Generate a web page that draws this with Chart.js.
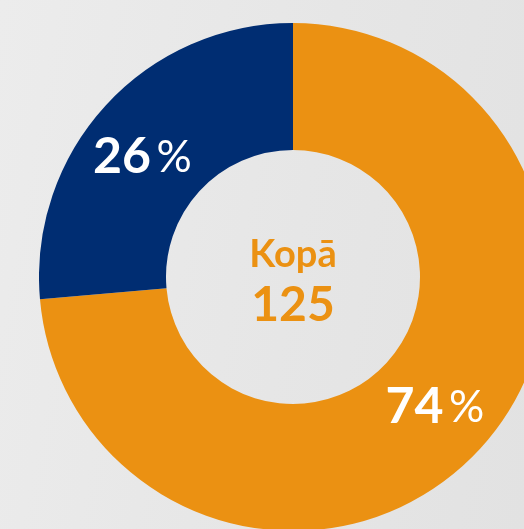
<!DOCTYPE html>
<html>
<head>
<meta charset="utf-8">
<script src="https://cdn.jsdelivr.net/npm/chart.js@4/dist/chart.umd.min.js"></script>
<style>
    html, body { margin: 0; padding: 0; width: 524px; height: 529px; overflow: hidden; }
    body { background: linear-gradient(100deg, #ececec 0%, #e6e6e6 55%, #e2e2e2 100%); position: relative; }
    #wrap { position: absolute; left: 39px; top: 23px; width: 508px; height: 508px; }
</style>
</head>
<body>
<div id="wrap"><canvas id="kopaChart"></canvas></div>
<script>
// dati
const kategorijas = ['A', 'B'];
const vertibas = [92, 33];
const krasas = ['#EB9112', '#002D72'];
const centraTeksts = 'Kopā';

const kopa = vertibas.reduce((a, b) => a + b, 0);

// procenti uz segmentiem + kopsumma centrā
const etiketes = {
    id: 'etiketes',
    afterDatasetsDraw(chart) {
        const ctx = chart.ctx;
        const meta = chart.getDatasetMeta(0);
        ctx.save();
        ctx.textBaseline = 'middle';
        meta.data.forEach((arc, i) => {
            // nedaudz pagriezts pret pulksteņrādītāju, kā oriģinālā
            const a = (arc.startAngle + arc.endAngle) / 2 - (i === 1 ? 0.07 : 0);
            const r = (arc.innerRadius + arc.outerRadius) / 2 + 2;
            const px = arc.x + Math.cos(a) * r;
            const py = arc.y + Math.sin(a) * r;
            const sk = Math.round(vertibas[i] / kopa * 100) + '';
            ctx.font = 'bold 50px Lato';
            const w1 = ctx.measureText(sk).width;
            ctx.font = '44px Lato';
            const w2 = ctx.measureText('\u2009%').width;
            const x0 = px - (w1 + w2) / 2;
            ctx.fillStyle = '#ffffff';
            ctx.textAlign = 'left';
            ctx.font = 'bold 50px Lato';
            ctx.fillText(sk, x0, py);
            ctx.font = '44px Lato';
            ctx.fillText('\u2009%', x0 + w1, py + 1);
        });
        const c = meta.data[0];
        ctx.textAlign = 'center';
        ctx.fillStyle = krasas[0];
        ctx.font = 'bold 38px Lato';
        ctx.fillText(centraTeksts, c.x, c.y - 22);
        ctx.font = 'bold 48px Lato';
        ctx.fillText(String(kopa), c.x, c.y + 29);
        ctx.restore();
    }
};

new Chart(document.getElementById('kopaChart').getContext('2d'), {
    type: 'doughnut',
    data: {
        labels: kategorijas,
        datasets: [{
            data: vertibas,
            backgroundColor: krasas,
            borderWidth: 0
        }]
    },
    options: {
        responsive: true,
        maintainAspectRatio: false,
        animation: false,
        cutout: '50%',
        layout: { padding: 0 },
        plugins: { legend: { display: false }, tooltip: { enabled: false } }
    },
    plugins: [etiketes]
});
</script>
</body>
</html>
